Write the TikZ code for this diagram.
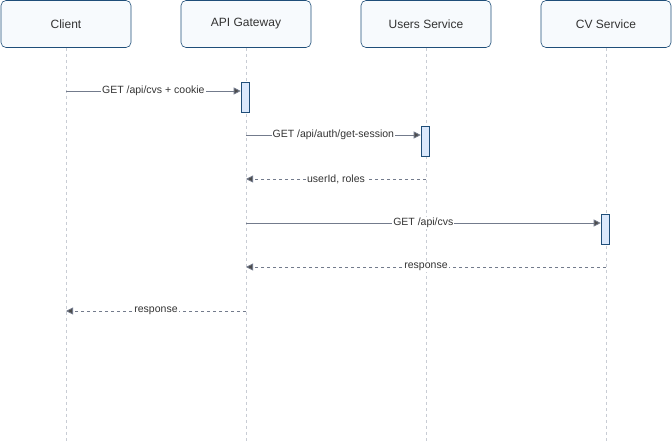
\documentclass[tikz,border=0pt]{standalone}
\usepackage{fontspec}
\setmainfont{Liberation Sans}
\usetikzlibrary{positioning,arrows.meta}
\definecolor{boxline}{HTML}{1F4E79}
\definecolor{boxfill}{HTML}{F7FAFD}
\definecolor{actfill}{HTML}{DAE8FC}
\definecolor{msgline}{HTML}{737B8C}
\definecolor{lifeline}{HTML}{C8CCD4}
\begin{document}
\begin{tikzpicture}[x=1pt,y=-1pt,
    actor/.style = {draw=boxline,semithick,fill=boxfill,rounded corners=5pt,minimum width=130pt,minimum height=47pt,font=\fontsize{12}{14}\selectfont,text=black!80},
    act/.style = {draw=boxline,semithick,fill=actfill,minimum width=8pt,minimum height=30pt,inner sep=0pt},
    life/.style = {lifeline,dashed,dash pattern=on 3pt off 3pt,thick},
    msg/.style = {msgline,thick,-{Triangle[length=7pt,width=7pt,fill=black!70]}},
    reply/.style = {msg,dashed,dash pattern=on 3pt off 3pt},
    msgtext/.style = {fill=white,inner sep=1pt,text=black!80,font=\fontsize{10.5}{12}\selectfont}]
  \useasboundingbox (0,0) rectangle (672,442);
  % participants
  \node [actor] (client) at (66,24) {Client};
  \node [actor] (gw) at (246,24) {API Gateway};
  \node [actor] (users) at (426,24) {Users Service};
  \node [actor] (cv) at (606,24) {CV Service};
  \foreach \p/\x in {client/66,gw/246,users/426,cv/606}
    \coordinate (\p end) at (\x,442);
  \foreach \p in {client,gw,users,cv}
    \draw [life] (\p.south) -- (\p end);
  % activations
  \node [act] (gwact) at (245,97) {};
  \node [act] (usersact) at (425,141) {};
  \node [act] (cvact) at (605,229) {};
  \coordinate (c1) at (66,91);
  \coordinate (g2) at (246,135);
  \coordinate (u3) at (426,179);
  \coordinate (g3) at (246,179);
  \coordinate (g4) at (246,223);
  \coordinate (v5) at (606,267);
  \coordinate (g5) at (246,267);
  \coordinate (g6) at (246,311);
  \coordinate (c6) at (66,311);
  % messages
  \draw [msg] (c1) -- node [msgtext,pos=0.5] {GET /api/cvs + cookie} (c1 -| gwact.west);
  \draw [msg] (g2) -- node [msgtext] {GET /api/auth/get-session} (g2 -| usersact.west);
  \draw [reply] (u3) -- node [msgtext] {userId, roles} (g3);
  \draw [msg] (g4) -- node [msgtext] {GET /api/cvs} (g4 -| cvact.west);
  \draw [reply] (v5) -- node [msgtext] {response} (g5);
  \draw [reply] (g6) -- node [msgtext] {response} (c6);
\end{tikzpicture}
\end{document}
